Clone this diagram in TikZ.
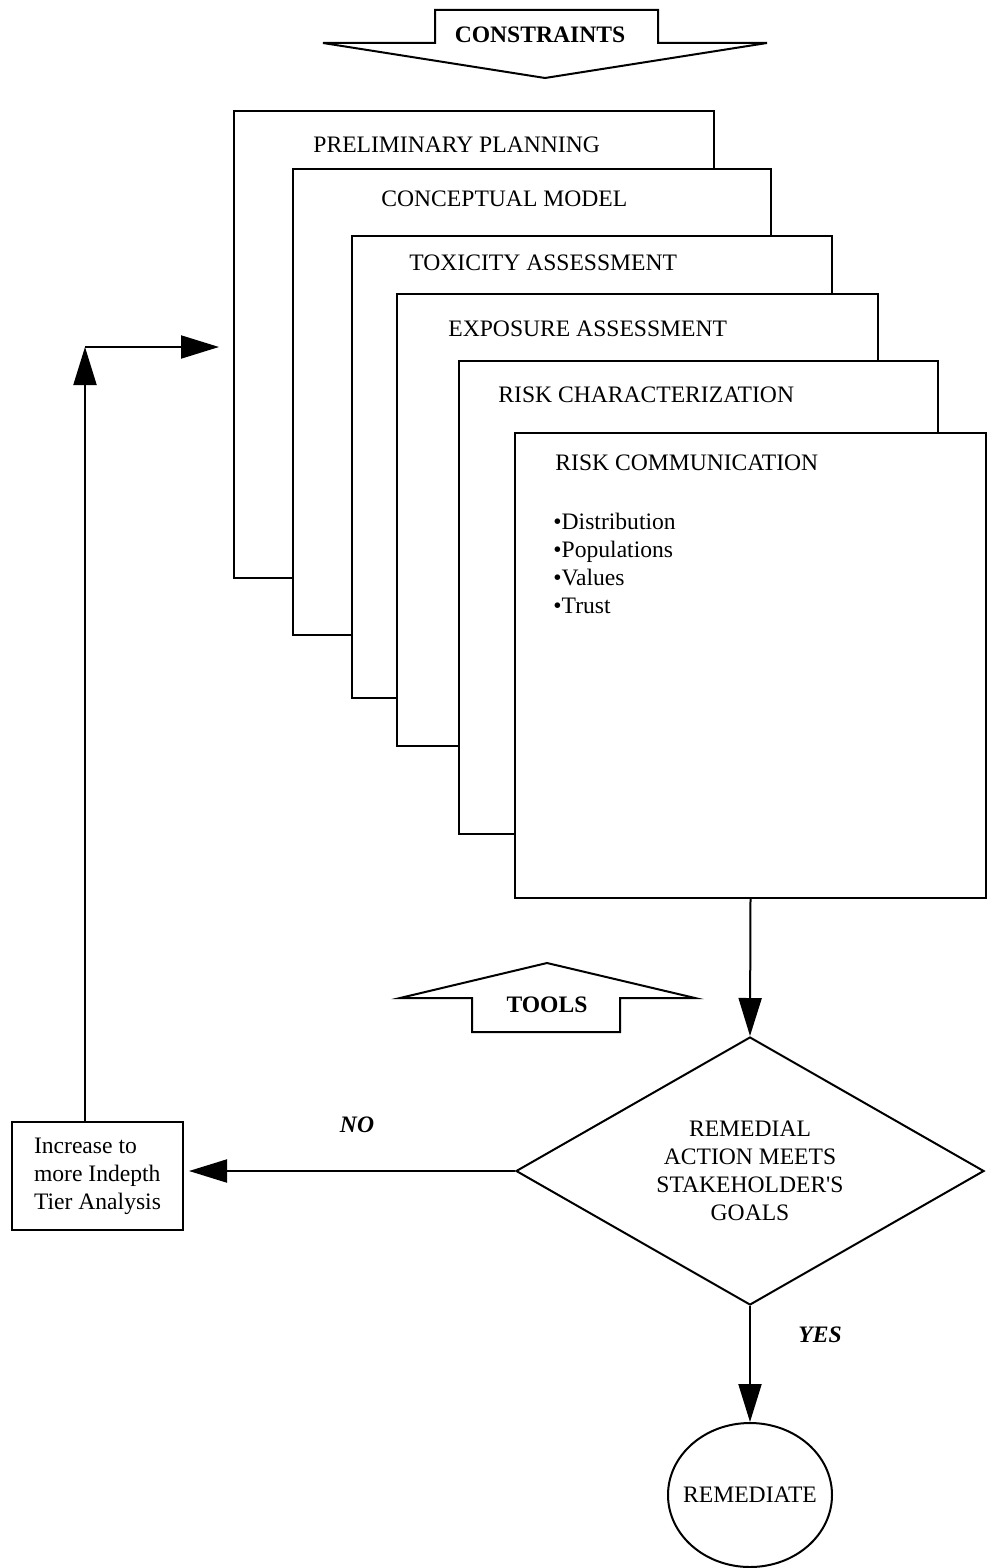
\documentclass[tikz,border=0pt]{standalone}
\usepackage{fontspec}
\setmainfont{Liberation Serif}
\usetikzlibrary{arrows.meta,shapes.geometric}

\newcommand{\figfont}{\fontsize{11.8}{14}\selectfont}
\tikzstyle{panel} = [draw, fill=white, line width=1pt, anchor=north west, inner sep=0pt]
\tikzstyle{title} = [anchor=west, inner sep=0pt]
\tikzstyle{blockarrow} = [draw, fill=white, line width=1pt, line join=miter]
\tikzstyle{blocktext} = [font=\figfont\bfseries]
\tikzstyle{decision} = [diamond, draw, line width=1pt, inner sep=0pt, aspect=1.75, align=center, minimum width=234pt, minimum height=134pt]
\tikzstyle{endstate} = [ellipse, draw, line width=1pt, inner sep=0pt, minimum width=82pt, minimum height=72pt]
\tikzstyle{tierbox} = [draw, line width=1pt, align=left, inner sep=0pt, minimum width=85.5pt, minimum height=54pt]
\tikzstyle{flow} = [line width=1pt, -{Triangle[length=19pt,width=11.5pt]}]
\tikzstyle{answer} = [font=\figfont\bfseries\itshape, inner sep=0pt]

\begin{document}
\begin{tikzpicture}[x=0.5pt, y=-0.5pt, font=\figfont]
      \useasboundingbox (0,0) rectangle (986,1568);
      % constraints block arrow
      \draw[blockarrow] (323,43) -- (435,43) -- (435,10) -- (658,10) -- (658,43) -- (767,43) -- (545,78) -- cycle;
      \node[blocktext] (constr) at (540,35) {CONSTRAINTS};
      % stacked panels
      \node[panel, minimum width=240pt, minimum height=233.5pt] (prelim) at (233,110) {};
      \node[title] (prelimt) at (313,145) {PRELIMINARY PLANNING};
      \node[panel, minimum width=239pt, minimum height=233pt] (concept) at (292,168) {};
      \node[title] (conceptt) at (381,199) {CONCEPTUAL MODEL};
      \node[panel, minimum width=240pt, minimum height=231pt] (toxic) at (351,235) {};
      \node[title] (toxict) at (409,263) {TOXICITY ASSESSMENT};
      \node[panel, minimum width=240.5pt, minimum height=226pt] (expo) at (396,293) {};
      \node[title] (expot) at (448,329) {EXPOSURE ASSESSMENT};
      \node[panel, minimum width=239.5pt, minimum height=236.5pt] (riskchar) at (458,360) {};
      \node[title] (riskchart) at (498,395) {RISK CHARACTERIZATION};
      \node[panel, minimum width=235.5pt, minimum height=232.5pt] (riskcomm) at (514,432) {};
      \node[title] (riskcommt) at (555,463) {RISK COMMUNICATION};
      \node[title, align=left] (bullets) at (553,563.5) {\textbullet Distribution\\\textbullet Populations\\\textbullet Values\\\textbullet Trust};
      % tools block arrow
      \draw[blockarrow] (400,998) -- (547,963) -- (695,998) -- (620,998) -- (620,1032) -- (472,1032) -- (472,998) -- cycle;
      \node[blocktext] (tools) at (547,1005) {TOOLS};
      % decision and outcomes
      \node[decision] (decide) at (750,1171) {REMEDIAL\\ACTION MEETS\\STAKEHOLDER\textquotesingle S\\GOALS};
      \node[endstate, label=center:REMEDIATE] (remed) at (750,1495) {};
      \node[tierbox] (incr) at (97.5,1176) {Increase to\\more Indepth\\Tier Analysis};
      \coordinate (loopcorner) at (85,347);
      \coordinate (loopend) at (219,347);
      \draw[flow] (riskcomm.south) -- (decide.north);
      \draw[flow] (decide.south) -- (remed.north);
      \draw[flow] (decide.west) -- ([xshift=2.5pt]decide.west -| incr.east);
      \draw[flow] (incr.north -| loopcorner) -- (loopcorner);
      \draw[flow] (loopcorner) -- (loopend);
      \node[answer] (no) at (357,1125) {NO};
      \node[answer] (yes) at (820,1335) {YES};
    \end{tikzpicture}
\end{document}
